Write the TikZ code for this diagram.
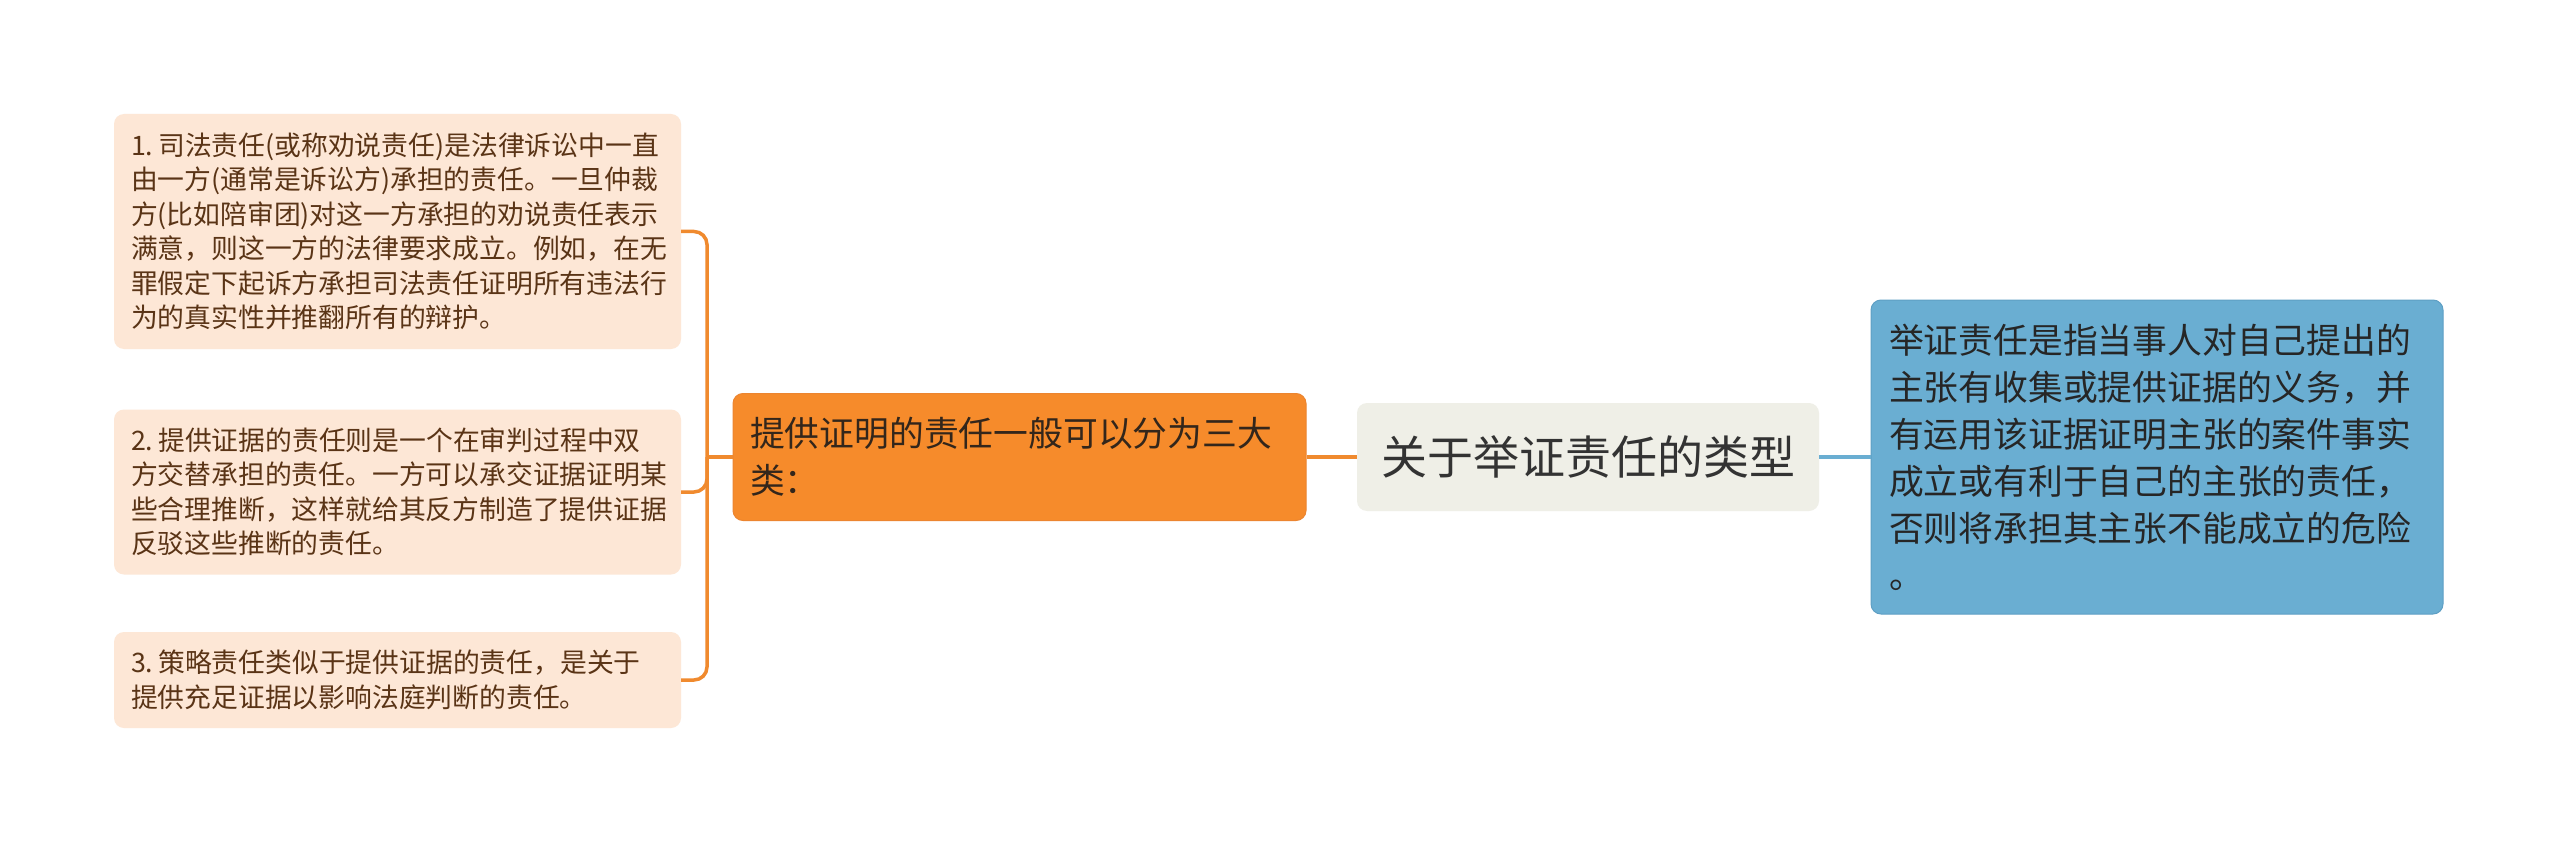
\documentclass[tikz,border=0pt]{standalone}
\usepackage{fontspec}
\setmainfont{Noto Sans CJK SC}
\definecolor{leaffill}{HTML}{FDE7D6}
\definecolor{leaftext}{HTML}{5A3416}
\definecolor{orfill}{HTML}{F68B2B}
\definecolor{ordraw}{HTML}{EC8530}
\definecolor{ortext}{HTML}{33261B}
\definecolor{rootfill}{HTML}{EFEFE7}
\definecolor{roottext}{HTML}{333333}
\definecolor{bluefill}{HTML}{6AAED2}
\definecolor{bluedraw}{HTML}{5E9FC4}
\definecolor{bluetext}{HTML}{262626}
\definecolor{orline}{HTML}{F08A2E}
\definecolor{blline}{HTML}{6AAED2}
\begin{document}
\begin{tikzpicture}[x=1pt,y=-1pt,
  leaf/.style={fill=leaffill, rounded corners=10pt, text=leaftext, align=left,
    inner xsep=17pt, inner ysep=0pt, text width=533pt, minimum width=567pt,
    font=\fontsize{26.8pt}{34.5pt}\selectfont},
  sub/.style={fill=orfill, draw=ordraw, line width=1pt, rounded corners=10pt, text=ortext, align=left,
    inner xsep=17pt, inner ysep=0pt, text width=539pt, minimum width=573pt, minimum height=127pt,
    font=\fontsize{34.8pt}{47pt}\selectfont},
  rootbox/.style={fill=rootfill, rounded corners=10pt, text=roottext, align=center,
    inner sep=0pt, minimum width=462pt, minimum height=108pt,
    font=\fontsize{46pt}{54pt}\selectfont},
  desc/.style={fill=bluefill, draw=bluedraw, line width=1pt, rounded corners=10pt, text=bluetext, align=left,
    inner xsep=18pt, inner ysep=0pt, text width=536pt, minimum width=572pt, minimum height=314pt,
    font=\fontsize{34.8pt}{47pt}\selectfont},
  oline/.style={draw=orline, line width=3.5pt},
  bline/.style={draw=blline, line width=3.5pt}
]
\useasboundingbox (0,0) rectangle (2560,845);
\fill[white] (0,0) rectangle (2560,845);

\node[leaf, minimum height=235pt] (l1) at (397.5,231.5) {1.\hspace{5pt}司法责任(或称劝说责任)是法律诉讼中一直\\由一方(通常是诉讼方)承担的责任。一旦仲裁\\方(比如陪审团)对这一方承担的劝说责任表示\\满意，则这一方的法律要求成立。例如，在无\\罪假定下起诉方承担司法责任证明所有违法行\\为的真实性并推翻所有的辩护。};
\node[leaf, minimum height=165pt] (l2) at (397.5,492) {2.\hspace{5pt}提供证据的责任则是一个在审判过程中双\\方交替承担的责任。一方可以承交证据证明某\\些合理推断，这样就给其反方制造了提供证据\\反驳这些推断的责任。};
\node[leaf, minimum height=96pt] (l3) at (397.5,680) {3.\hspace{5pt}策略责任类似于提供证据的责任，是关于\\提供充足证据以影响法庭判断的责任。};

\node[sub] (sub) at (1019.5,457) {提供证明的责任一般可以分为三大\\类：};
\node[rootbox] (root) at (1588,457) {关于举证责任的类型};
\node[desc] (desc) at (2157,457) {举证责任是指当事人对自己提出的\\主张有收集或提供证据的义务，并\\有运用该证据证明主张的案件事实\\成立或有利于自己的主张的责任，\\否则将承担其主张不能成立的危险\\。};

\coordinate (jn) at (707,457);
\draw[oline] (sub.west) -- (jn);
\draw[oline, rounded corners=13pt] (jn) |- (l1.east);
\draw[oline, rounded corners=13pt] (jn) |- (l2.east);
\draw[oline, rounded corners=13pt] (jn) |- (l3.east);
\draw[oline] (root.west) -- (sub.east);
\draw[bline] (root.east) -- (desc.west);
\end{tikzpicture}
\end{document}
